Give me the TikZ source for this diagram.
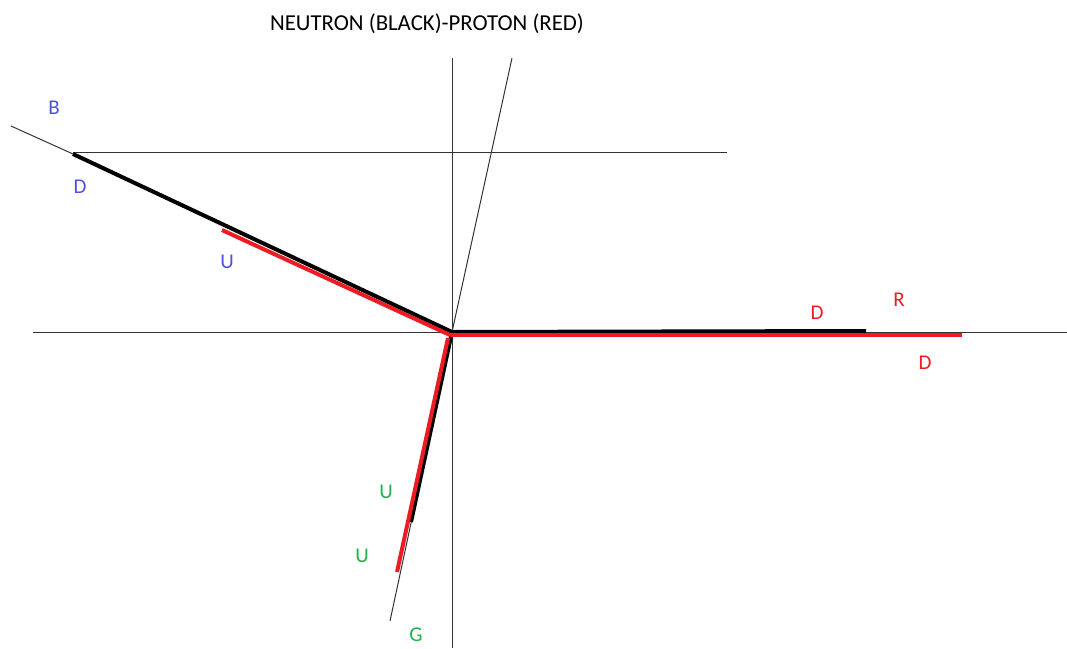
\documentclass[tikz,border=0pt]{standalone}
\usepackage{fontspec}
\setmainfont{Carlito}
\definecolor{qblue}{RGB}{80,80,225}
\definecolor{qred}{RGB}{237,28,36}
\definecolor{qgreen}{RGB}{34,177,76}
\tikzset{
  thinline/.style={draw=black!80,line width=1pt},
  neutron/.style={draw=black,line width=4pt},
  proton/.style={draw=qred,line width=4pt},
  lbl/.style={inner sep=0pt,font=\fontsize{21}{21}\selectfont},
}
\begin{document}
\begin{tikzpicture}[x=1pt,y=-1pt]
\useasboundingbox (0,0) rectangle (1067,648);
\fill[white] (0,0) rectangle (1067,648);
% coordinates
\coordinate (O) at (452,332);
\coordinate (xl) at (33,332);
\coordinate (xr) at (1067,332);
\coordinate (yt) at (452,58);
\coordinate (yb) at (452,648);
\coordinate (tt) at (512,58);
\coordinate (hl) at (73,152);
\coordinate (hr) at (727,152);
\coordinate (bl) at (11,126);
\coordinate (bd) at (73,154);
\coordinate (gu) at (390,621);
\coordinate (nU) at (411,522);
\coordinate (pUs) at (448,338);
\coordinate (pU) at (397,572);
\coordinate (pBs) at (450,335);
\coordinate (pB) at (222,230);
\coordinate (nR) at (866,331);
\coordinate (pRs) at (450,335);
\coordinate (pR) at (962,335);
% thin lines
\draw[thinline] (xl) -- (xr);
\draw[thinline] (yt) -- (yb);
\draw[thinline] (O) -- (tt);
\draw[thinline] (hl) -- (hr);
\draw[thinline] (bl) -- (bd);
\draw[thinline] (O) -- (gu);
% neutron (black)
\draw[neutron] (bd) -- (O);
\draw[neutron] (O) -- (nR);
\draw[neutron] (O) -- (nU);
% proton (red)
\draw[proton] (pB) -- (pBs);
\draw[proton] (pRs) -- (pR);
\draw[proton] (pUs) -- (pU);
% labels
\node[inner sep=0pt,font=\fontsize{22.8}{22.8}\selectfont] (title) at (427,24) {NEUTRON (BLACK)-PROTON (RED)};
\node[lbl,text=qblue] (lB) at (54,108) {B};
\node[lbl,text=qblue] (lD1) at (80,187) {D};
\node[lbl,text=qblue] (lU1) at (227,262) {U};
\node[lbl,text=qred] (lD2) at (817,313) {D};
\node[lbl,text=qred] (lR) at (899,300) {R};
\node[lbl,text=qred] (lD3) at (925,363) {D};
\node[lbl,text=qgreen] (lU2) at (386,492) {U};
\node[lbl,text=qgreen] (lU3) at (362,556) {U};
\node[lbl,text=qgreen] (lG) at (416,635) {G};
\end{tikzpicture}
\end{document}
